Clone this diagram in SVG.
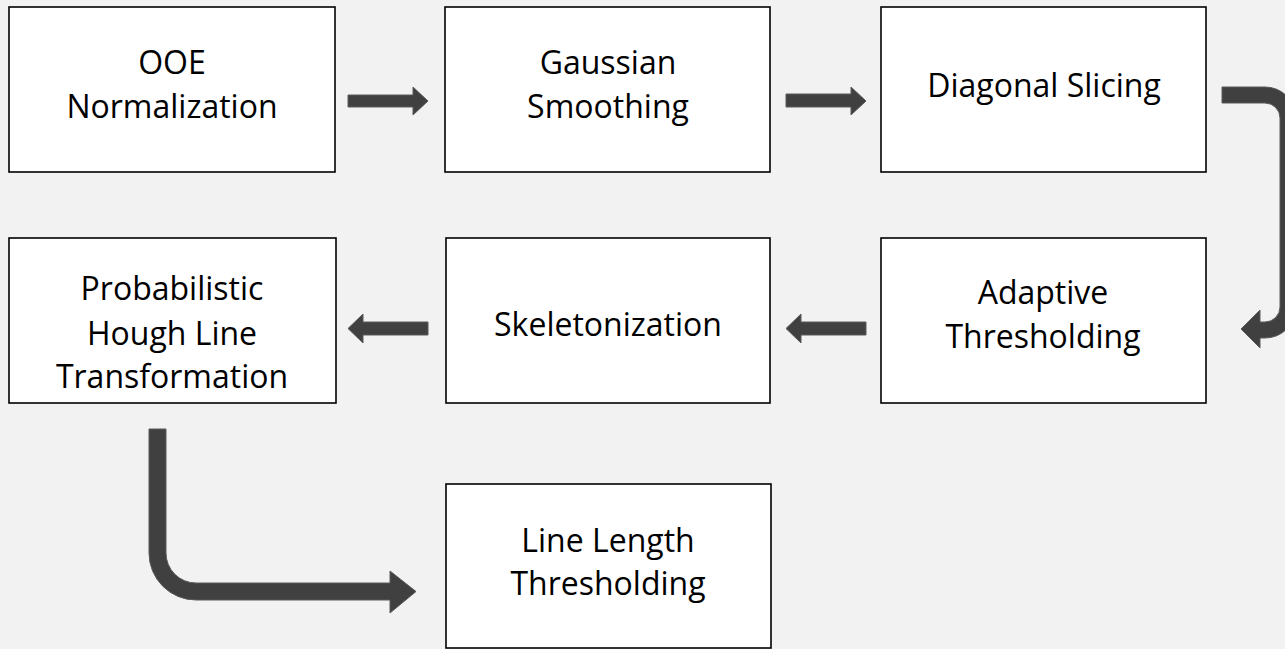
<svg xmlns="http://www.w3.org/2000/svg" width="1285" height="649" viewBox="0 0 1285 649">
<style>
.box{fill:#ffffff;stroke:#000000;stroke-width:1.6}
.t{font-family:"Open Sans","Liberation Sans",sans-serif;font-size:32px;fill:#000000;text-anchor:middle}
.arr{fill:#404040;stroke:#5a5a5a;stroke-width:1}
</style>
<rect x="0" y="0" width="1285" height="649" fill="#f2f2f2"/>
<g id="n1"><rect class="box" x="9" y="7" width="326" height="165"/><text class="t" x="172" y="74">OOE</text><text class="t" x="172" y="118">Normalization</text></g>
<g id="n2"><rect class="box" x="445" y="7" width="325" height="165"/><text class="t" x="608" y="74">Gaussian</text><text class="t" x="608" y="118">Smoothing</text></g>
<g id="n3"><rect class="box" x="881" y="7" width="325" height="165"/><text class="t" x="1044" y="97">Diagonal Slicing</text></g>
<g id="n4"><rect class="box" x="9" y="238" width="327" height="165"/><text class="t" x="172" y="300">Probabilistic</text><text class="t" x="172" y="345">Hough Line</text><text class="t" x="172" y="388">Transformation</text></g>
<g id="n5"><rect class="box" x="446" y="238" width="324" height="165"/><text class="t" x="608" y="336">Skeletonization</text></g>
<g id="n6"><rect class="box" x="881" y="238" width="325" height="165"/><text class="t" x="1043" y="304">Adaptive</text><text class="t" x="1043" y="348">Thresholding</text></g>
<g id="n7"><rect class="box" x="446" y="484" width="325" height="164"/><text class="t" x="608" y="552">Line Length</text><text class="t" x="608" y="595">Thresholding</text></g>
<g id="connectors">
<path class="arr" d="M348,95 H413 V87 L428,101 L413,115 V107 H348 Z"/>
<path class="arr" d="M786,94 H851 V87 L866,101 L851,115 V107 H786 Z"/>
<path class="arr" d="M428,322 H363 V314 L348,328.5 L363,343 V335 H428 Z"/>
<path class="arr" d="M866,322 H801 V314 L786,328.5 L801,343 V335 H866 Z"/>
<path class="arr" d="M1222,87 H1265 A31,31 0 0 1 1296,118 V307 A31,31 0 0 1 1265,338 H1260 V348 L1241,329 L1260,310 V322 H1265 A15,15 0 0 0 1280,307 V118 A15,15 0 0 0 1265,103 H1222 Z"/>
<path class="arr" d="M149,429 V553 A47,47 0 0 0 196,600 H390 V613 L416,591.5 L390,571 V583 H196 A30,30 0 0 1 166,553 V429 Z"/>
</g>
</svg>
